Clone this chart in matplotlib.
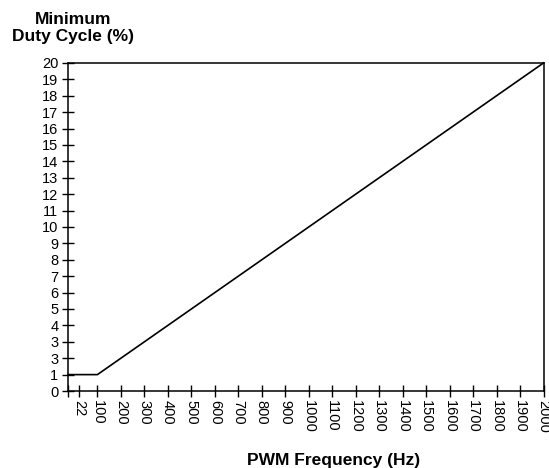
#!/usr/bin/python3

# Minimum duty cycle vs PWM frequency.

import matplotlib

matplotlib.use("Agg")
import matplotlib.pyplot as plt

# line: flat at 1 % up to 100 Hz, then linear to 20 % at 2 kHz
freq_hz = [-25, 100, 2000]
duty_pct = [1, 1, 20]

x_ticks = [22] + list(range(100, 2001, 100))
x_labels = [str(v) for v in x_ticks]
y_ticks = list(range(0, 21))
# the original labels the 2 % tick as "3" too
y_labels = ["0", "1", "3"] + [str(v) for v in range(3, 21)]

plt.rcParams["font.family"] = ["Liberation Sans", "DejaVu Sans"]

fig = plt.figure(figsize=(5.49, 4.68), dpi=100)
ax = fig.add_axes([0.124, 0.1645, 0.866, 0.701])

ax.plot(freq_hz, duty_pct, color="black", linewidth=1.2, clip_on=False)

ax.set_xlim(-25, 2000)
ax.set_ylim(0, 20)

ax.set_xticks(x_ticks, x_labels, rotation=270, fontsize=10.5)
ax.set_yticks(y_ticks, y_labels, fontsize=10.5)
ax.set_xticks([-25], minor=True)
ax.tick_params(axis="both", which="both", direction="inout", length=9, width=1.0,
               color="black", pad=2)
ax.tick_params(axis="y", length=8, pad=3)

for sp in ax.spines.values():
    sp.set_linewidth(1.1)

fig.text(0.608, 0.017, "PWM Frequency (Hz)", ha="center", va="center",
         fontsize=12.5, fontweight="bold")
fig.text(0.133, 0.94, "Minimum\nDuty Cycle (%)", ha="center", va="center",
         fontsize=12.5, fontweight="bold", linespacing=1.15)

fig.savefig("out.png", dpi=100)
